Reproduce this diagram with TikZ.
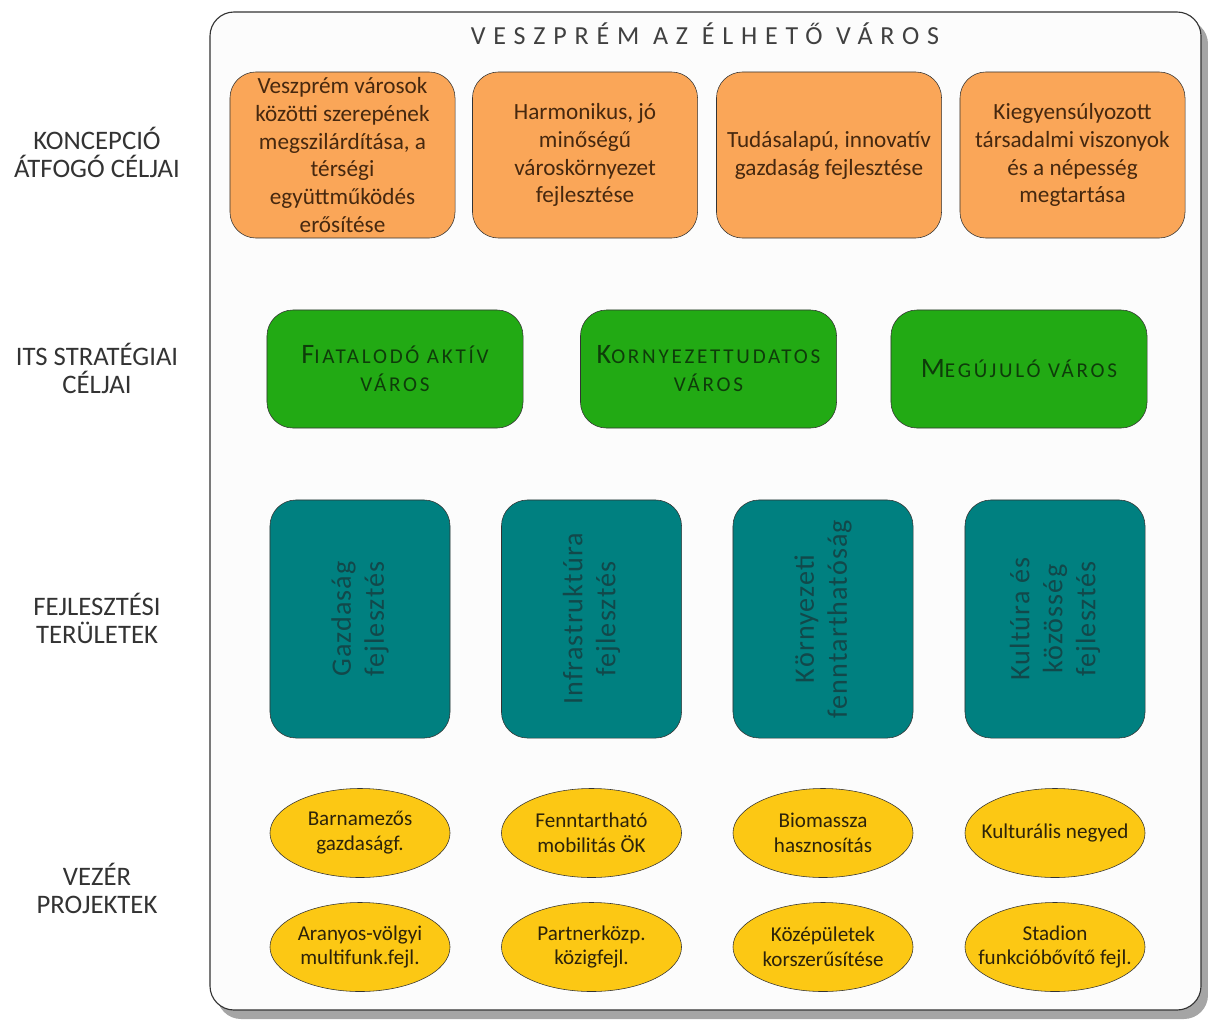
\documentclass[tikz,border=0pt]{standalone}
\usepackage{fontspec}
\setmainfont{Carlito}
\newfontfamily\titlefont[LetterSpace=30]{Carlito}
\newfontfamily\stratfont[LetterSpace=13]{Carlito}
\newfontfamily\areafont[LetterSpace=4]{Carlito}
\usetikzlibrary{shapes.geometric}

\definecolor{framefill}{RGB}{252,252,252}
\definecolor{shadowgray}{RGB}{165,165,165}
\definecolor{goalorange}{RGB}{250,166,88}
\definecolor{goaltext}{RGB}{70,40,15}
\definecolor{stratgreen}{RGB}{34,170,20}
\definecolor{strattext}{RGB}{14,60,10}
\definecolor{areateal}{RGB}{0,128,128}
\definecolor{areatext}{RGB}{18,72,74}
\definecolor{projyellow}{RGB}{252,200,20}
\definecolor{projtext}{RGB}{45,35,10}

% small caps look of the green boxes
\newcommand{\bigsc}[2]{{\fontsize{20}{24}\selectfont #1}{\fontsize{15}{24}\selectfont #2}}

\tikzset{
  rowlabel/.style={align=center, text=black!80, font=\fontsize{19}{20}\selectfont},
  goalbox/.style={rectangle, rounded corners=0.65cm, draw=black!80, fill=goalorange,
    minimum width=5.625cm, minimum height=4.15cm, inner sep=0pt, align=center,
    text=goaltext, font=\fontsize{16.5}{19.85}\selectfont},
  stratbox/.style={rectangle, rounded corners=0.65cm, draw=black!80, fill=stratgreen,
    minimum width=6.4cm, minimum height=2.95cm, inner sep=0pt, align=center,
    text=strattext, font=\stratfont\fontsize{15}{19.85}\selectfont},
  areabox/.style={rectangle, rounded corners=0.65cm, draw=black!80, fill=areateal,
    rotate=90, minimum width=5.95cm, minimum height=4.5cm, inner sep=0pt, align=center,
    text=areatext, font=\areafont\fontsize{20}{23.4}\selectfont},
  projell/.style={ellipse, draw=black!80, fill=projyellow,
    minimum width=4.5cm, minimum height=2.225cm, inner sep=0pt},
  projtxt/.style={align=center, text=projtext, font=\fontsize{15}{17.7}\selectfont}
}

\begin{document}
\begin{tikzpicture}[x=0.025cm, y=-0.025cm]
  \useasboundingbox (0,0) rectangle (1208,1025);

  % frame with shadow
  \fill[shadowgray, rounded corners=0.6cm] (217,20) rectangle (1208,1019);
  \draw[black!80, line width=0.8pt, fill=framefill, rounded corners=0.6cm] (210,12) rectangle (1201,1010);
  \node[text=black!75, font=\titlefont\fontsize{18.5}{20}\selectfont] (title) at (705,34) {VESZPRÉM AZ ÉLHETŐ VÁROS};

  % row labels
  \node[rowlabel] (lab1) at (97,152) {KONCEPCIÓ\\ÁTFOGÓ CÉLJAI};
  \node[rowlabel] (lab2) at (97,368) {ITS STRATÉGIAI\\CÉLJAI};
  \node[rowlabel] (lab3) at (97,618) {FEJLESZTÉSI\\TERÜLETEK};
  \node[rowlabel] (lab4) at (97,888) {VEZÉR\\PROJEKTEK};

  % concept goals
  \node[goalbox] (goal1) at (342.5,155) {Veszprém városok\\közötti szerepének\\megszilárdítása, a\\térségi\\együttműködés\\erősítése};
  \node[goalbox] (goal2) at (585,155) {Harmonikus, jó\\minőségű\\városkörnyezet\\fejlesztése};
  \node[goalbox] (goal3) at (829,155) {Tudásalapú, innovatív\\gazdaság fejlesztése};
  \node[goalbox] (goal4) at (1072.5,155) {Kiegyensúlyozott\\társadalmi viszonyok\\és a népesség\\megtartása};

  % strategic goals
  \node[stratbox] (strat1) at (395,369) {\bigsc{F}{IATALODÓ AKTÍV}\\VÁROS};
  \node[stratbox] (strat2) at (708.5,369) {\bigsc{K}{ORNYEZETTUDATOS}\\VÁROS};
  \node[stratbox] (strat3) at (1019,369) {\bigsc{M}{EGÚJULÓ VÁROS}};

  % development areas
  \node[areabox] (area1) at (360,619) {Gazdaság\\fejlesztés};
  \node[areabox] (area2) at (591.5,619) {Infrastruktúra\\fejlesztés};
  \node[areabox] (area3) at (823,619) {Környezeti\\fenntarthatóság};
  \node[areabox] (area4) at (1055,619) {Kultúra és\\közösség\\fejlesztés};

  % flagship projects
  \node[projell, label={[projtxt]center:{Barnamezős\\gazdaságf.}}] (proj1) at (360,833) {};
  \node[projell, label={[projtxt]center:{Fenntartható\\mobilitás ÖK}}] (proj2) at (591.5,833) {};
  \node[projell, label={[projtxt]center:{Biomassza\\hasznosítás}}] (proj3) at (823,833) {};
  \node[projell, label={[projtxt]center:{Kulturális negyed}}] (proj4) at (1055,833) {};
  \node[projell, label={[projtxt]center:{Aranyos-völgyi\\multifunk.fejl.}}] (proj5) at (360,947) {};
  \node[projell, label={[projtxt]center:{Partnerközp.\\közigfejl.}}] (proj6) at (591.5,947) {};
  \node[projell, label={[projtxt]center:{Középületek\\korszerűsítése}}] (proj7) at (823,947) {};
  \node[projell, label={[projtxt]center:{Stadion\\funkcióbővítő fejl.}}] (proj8) at (1055,947) {};
\end{tikzpicture}
\end{document}
